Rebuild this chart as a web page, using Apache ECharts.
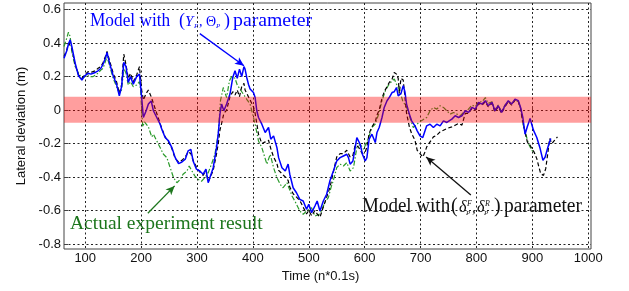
<!DOCTYPE html>
<html>
<head>
<meta charset="utf-8">
<script src="https://cdn.jsdelivr.net/npm/echarts@6/dist/echarts.min.js"></script>
<style>
  html, body { margin: 0; padding: 0; background: #fff; }
  #chart { width: 629px; height: 291px; }
</style>
</head>
<body>
<div id="chart"></div>
<script>
// tick values
const xTicks = [100, 200, 300, 400, 500, 600, 700, 800, 900, 1000];
const yTicks = [-0.8, -0.6, -0.4, -0.2, 0, 0.2, 0.4, 0.6];
// tolerance band (m)
const bandLimits = [0.08, -0.075];

// Model with (Y_P, Θ_P) parameter
const modelYTheta = [[62,0.31],[67,0.355],[70,0.395],[73,0.42],[76,0.38],[82,0.28],[88,0.205],[94,0.18],[99,0.205],[105,0.22],[110,0.215],[114,0.22],[118,0.225],[123,0.235],[128,0.25],[132,0.275],[136,0.31],[139,0.345],[144,0.275],[150,0.205],[156,0.155],[161,0.085],[165,0.14],[169,0.285],[173,0.26],[177,0.165],[181,0.2],[186,0.155],[192,0.2],[197,0.215],[201,0.075],[204,-0.044],[209,-0.004],[213,0.036],[218,0.055],[222,-0.004],[228,-0.044],[234,-0.084],[237,-0.114],[243,-0.164],[249,-0.184],[255,-0.224],[261,-0.284],[267,-0.32],[273,-0.31],[279,-0.293],[284,-0.244],[289,-0.235],[293,-0.304],[299,-0.353],[305,-0.364],[311,-0.383],[316,-0.353],[320,-0.434],[323,-0.425],[329,-0.344],[335,-0.224],[338,-0.144],[341,-0.024],[344,0.036],[348,-0.004],[353,0.036],[359,0.096],[364,0.195],[368,0.235],[372,0.19],[376,0.245],[380,0.2],[384,0.26],[386,0.245],[389,0.195],[392,0.155],[395,0.126],[401,0.105],[404,0.075],[407,-0.004],[410,-0.044],[416,-0.084],[422,-0.134],[428,-0.104],[432,-0.174],[437,-0.154],[443,-0.224],[446,-0.284],[452,-0.344],[458,-0.364],[463,-0.323],[466,-0.383],[472,-0.464],[478,-0.494],[484,-0.533],[490,-0.543],[496,-0.593],[500,-0.563],[505,-0.613],[511,-0.573],[515,-0.543],[520,-0.603],[526,-0.543],[532,-0.503],[538,-0.42],[544,-0.364],[550,-0.304],[556,-0.284],[562,-0.274],[568,-0.264],[571,-0.284],[574,-0.323],[579,-0.304],[583,-0.224],[586,-0.164],[589,-0.154],[592,-0.204],[596,-0.264],[601,-0.304],[604,-0.284],[608,-0.174],[613,-0.144],[619,-0.194],[622,-0.134],[626,-0.104],[631,-0.044],[635,0.016],[640,0.056],[644,0.075],[649,0.105],[653,0.11],[657,0.135],[660,0.085],[665,0.1],[669,0.146],[672,0.11],[675,0.036],[680,-0.024],[684,-0.064],[690,-0.094],[694,-0.124],[699,-0.154],[704,-0.164],[708,-0.124],[711,-0.094],[717,-0.084],[723,-0.104],[729,-0.084],[735,-0.094],[741,-0.064],[747,-0.074],[756,-0.054],[762,-0.034],[768,-0.044],[774,-0.034],[780,-0.004],[786,-0.014],[792,0.016],[798,0.006],[804,0.046],[810,0.036],[816,0.056],[821,0.026],[828,0.046],[833,-0.004],[839,0.026],[845,-0.014],[851,0.026],[857,0.056],[863,0.036],[869,0.066],[875,0.056],[879,0.016],[883,-0.044],[887,-0.144],[891,-0.1],[896,-0.05],[902,-0.12],[908,-0.164],[914,-0.23],[919,-0.3],[923,-0.28],[928,-0.22],[933,-0.17]];

// Model with (δ_P^F, δ_P^R) parameter
const modelDelta = [[62,0.32],[67,0.36],[70,0.40],[73,0.41],[76,0.37],[82,0.27],[88,0.21],[94,0.19],[99,0.21],[105,0.23],[110,0.225],[114,0.23],[118,0.235],[123,0.25],[128,0.26],[132,0.285],[136,0.32],[139,0.35],[144,0.29],[150,0.22],[156,0.17],[161,0.10],[165,0.15],[169,0.335],[173,0.27],[177,0.19],[181,0.22],[186,0.17],[192,0.21],[197,0.26],[201,0.12],[204,0.06],[209,0.10],[213,0.12],[218,0.08],[222,0.04],[228,-0.02],[234,-0.08],[237,-0.11],[243,-0.16],[249,-0.19],[255,-0.23],[261,-0.29],[267,-0.31],[273,-0.30],[279,-0.28],[284,-0.25],[289,-0.26],[293,-0.30],[299,-0.34],[305,-0.37],[311,-0.39],[316,-0.36],[320,-0.43],[323,-0.42],[329,-0.36],[335,-0.26],[338,-0.20],[341,-0.12],[344,-0.08],[348,-0.02],[353,0.0],[359,0.08],[364,0.11],[368,0.09],[372,0.12],[376,0.08],[380,0.14],[384,0.16],[386,0.12],[389,0.10],[392,0.08],[395,0.06],[401,0.02],[404,-0.02],[407,-0.08],[410,-0.144],[416,-0.20],[422,-0.19],[428,-0.18],[432,-0.23],[437,-0.28],[443,-0.32],[446,-0.36],[452,-0.38],[458,-0.40],[463,-0.42],[466,-0.46],[472,-0.50],[478,-0.52],[484,-0.54],[490,-0.58],[496,-0.62],[500,-0.60],[505,-0.63],[511,-0.60],[515,-0.62],[520,-0.64],[526,-0.58],[532,-0.52],[538,-0.46],[544,-0.37],[550,-0.28],[556,-0.26],[562,-0.26],[568,-0.24],[571,-0.25],[574,-0.28],[579,-0.27],[583,-0.21],[586,-0.20],[589,-0.22],[592,-0.24],[596,-0.26],[601,-0.25],[604,-0.22],[608,-0.14],[613,-0.10],[619,-0.07],[622,-0.03],[626,0.0],[631,0.07],[635,0.11],[640,0.14],[644,0.165],[649,0.185],[653,0.225],[657,0.215],[660,0.19],[662,0.10],[665,0.19],[669,0.18],[672,0.08],[675,-0.02],[680,-0.10],[684,-0.14],[690,-0.18],[694,-0.24],[699,-0.26],[704,-0.28],[708,-0.25],[711,-0.22],[717,-0.19],[723,-0.16],[729,-0.15],[735,-0.13],[741,-0.12],[747,-0.11],[756,-0.10],[762,-0.09],[768,-0.08],[774,-0.09],[780,-0.02],[786,-0.02],[792,0.01],[798,0.0],[804,0.04],[810,0.03],[816,0.05],[821,0.02],[828,0.04],[833,-0.01],[839,0.02],[845,-0.02],[851,0.02],[857,0.05],[863,0.03],[869,0.06],[875,0.05],[879,0.01],[883,-0.07],[887,-0.13],[891,-0.19],[896,-0.21],[899,-0.23],[903,-0.25],[908,-0.29],[911,-0.33],[915,-0.38],[920,-0.39],[924,-0.35],[928,-0.25],[931,-0.17],[935,-0.20],[940,-0.18],[945,-0.16]];

// Actual experiment result
const actualResult = [[62,0.38],[66,0.42],[70,0.465],[73,0.44],[76,0.35],[82,0.26],[88,0.22],[94,0.19],[99,0.20],[105,0.21],[110,0.20],[114,0.20],[118,0.21],[123,0.22],[128,0.24],[132,0.25],[136,0.29],[139,0.32],[144,0.26],[150,0.19],[156,0.14],[161,0.10],[165,0.12],[169,0.25],[173,0.22],[177,0.15],[181,0.17],[186,0.14],[192,0.15],[197,0.17],[199,0.12],[201,0.0],[203,-0.10],[206,-0.07],[209,-0.06],[213,-0.10],[216,-0.104],[219,-0.16],[222,-0.144],[228,-0.184],[234,-0.224],[240,-0.264],[246,-0.284],[252,-0.344],[258,-0.404],[264,-0.434],[270,-0.414],[275,-0.383],[282,-0.364],[286,-0.334],[291,-0.364],[296,-0.393],[302,-0.414],[308,-0.425],[314,-0.404],[320,-0.374],[326,-0.323],[332,-0.264],[338,-0.144],[342,0.056],[347,0.135],[353,0.075],[358,0.175],[362,0.2],[368,0.19],[372,0.15],[378,0.12],[384,0.09],[390,0.06],[395,0.036],[404,-0.084],[410,-0.184],[416,-0.224],[425,-0.323],[431,-0.264],[437,-0.344],[443,-0.404],[449,-0.444],[454,-0.464],[461,-0.434],[470,-0.513],[475,-0.543],[484,-0.603],[490,-0.623],[496,-0.603],[505,-0.583],[511,-0.633],[520,-0.62],[529,-0.55],[535,-0.523],[540,-0.46],[544,-0.42],[550,-0.344],[556,-0.323],[562,-0.334],[568,-0.314],[574,-0.364],[580,-0.344],[586,-0.224],[592,-0.204],[598,-0.234],[607,-0.164],[613,-0.104],[619,-0.084],[625,-0.024],[631,0.056],[637,0.115],[642,0.146],[649,0.175],[653,0.186],[657,0.155],[663,0.115],[668,0.056],[675,0.016],[681,-0.044],[687,-0.104],[695,-0.08],[703,-0.06],[711,-0.044],[717,-0.004],[723,0.016],[729,0.006],[735,0.026],[741,0.016],[747,-0.004],[753,-0.024],[759,-0.014],[765,-0.024],[771,-0.034],[777,-0.014],[783,-0.004],[786,0.0],[792,0.03],[798,0.02],[804,0.05],[810,0.05],[816,0.075],[821,0.04],[828,0.05],[833,0.0],[839,0.03],[845,-0.01],[851,0.03],[857,0.05],[863,0.04],[869,0.06],[875,0.05],[879,0.01],[883,-0.08],[888,-0.14],[893,-0.20],[899,-0.24],[905,-0.26]];

// arrow endpoints of the annotations, in data units
const arrowYTheta = [[305, 0.457], [384, 0.265]];
const arrowDelta = [[790, -0.507], [710, -0.28]];
const arrowActual = [[212, -0.616], [260, -0.453]];

(function () {
    const chart = echarts.init(document.getElementById('chart'));

    const serif = 'Liberation Serif, Times New Roman, serif';
    const sans = 'Liberation Sans, Arial, sans-serif';

    function arrow(pts, color) {
        return {
            silent: true,
            symbol: ['none', 'arrow'],
            symbolSize: [6, 9],
            label: { show: false },
            lineStyle: { color: color, width: 1.3, type: 'solid' },
            emphasis: { disabled: true },
            data: [[{ coord: pts[0] }, { coord: pts[1] }]]
        };
    }

    // one piece of annotation text; y is the vertical middle of the text
    function t(x, y, s, size, color, italic, sx) {
        return {
            type: 'text', x: x, y: y, silent: true, scaleX: sx || 1,
            style: {
                text: s, fill: color, fontFamily: serif, fontSize: size,
                fontStyle: italic ? 'italic' : 'normal',
                align: 'left', verticalAlign: 'middle'
            }
        };
    }

    const blue = '#0000ff';
    const dark = '#111111';
    const green = '#1d761d';

    const option = {
        animation: false,
        grid: {
            left: 64, right: 38, top: 3, bottom: 42,
            show: true, borderColor: '#444', borderWidth: 1
        },
        xAxis: {
            type: 'value', min: 62, max: 1005,
            name: 'Time (n*0.1s)', nameLocation: 'middle', nameGap: 18,
            nameTextStyle: { fontFamily: sans, fontSize: 13, color: '#111', padding: [0, 14, 0, 0] },
            axisLine: { show: false },
            axisTick: { show: true, inside: true, length: 4, customValues: xTicks, lineStyle: { color: '#444' } },
            axisLabel: {
                customValues: xTicks, margin: 3, fontFamily: sans, fontSize: 13, color: '#111',
                formatter: v => String(v)
            },
            splitLine: { show: true, lineStyle: { color: '#222', width: 1, type: [2, 2.5] } }
        },
        yAxis: {
            type: 'value', min: -0.83, max: 0.64,
            name: 'Lateral deviation (m)', nameLocation: 'middle', nameGap: 36,
            nameTextStyle: { fontFamily: sans, fontSize: 13, color: '#111' },
            axisLine: { show: false },
            axisTick: { show: true, inside: true, length: 4, customValues: yTicks, lineStyle: { color: '#444' } },
            axisLabel: { customValues: yTicks, margin: 3, fontFamily: sans, fontSize: 13, color: '#111' },
            splitLine: { show: true, lineStyle: { color: '#222', width: 1, type: [2, 2.5] } }
        },
        series: [
            {
                name: 'Actual experiment result', type: 'line', z: 2,
                data: actualResult, showSymbol: false, silent: true,
                lineStyle: { color: '#2a9a2a', width: 1.2, type: [5, 2, 1.5, 2] },
                markLine: arrow(arrowActual, '#1d761d')
            },
            {
                name: 'Model delta', type: 'line', z: 3,
                data: modelDelta, showSymbol: false, silent: true,
                lineStyle: { color: '#000', width: 1.2, type: [4, 2.5] },
                markLine: arrow(arrowDelta, '#111')
            },
            {
                name: 'Model Y Theta', type: 'line', z: 4,
                data: modelYTheta, showSymbol: false, silent: true,
                lineStyle: { color: blue, width: 1.5 },
                markLine: arrow(arrowYTheta, blue)
            },
            {
                // the band is painted over the curves, as in the original figure
                name: 'band', type: 'custom', z: 10, silent: true,
                data: [bandLimits],
                renderItem: function (params, api) {
                    const cs = params.coordSys;
                    const top = api.coord([0, api.value(0)])[1];
                    const bottom = api.coord([0, api.value(1)])[1];
                    return {
                        type: 'rect',
                        shape: { x: cs.x, y: top, width: cs.width, height: bottom - top },
                        style: { fill: 'rgba(255,0,0,0.38)' }
                    };
                }
            }
        ],
        graphic: [
            // Model with (Y_P, Θ_P) parameter
            t(90, 21.5, 'Model with', 19, blue, false, 0.91),
            t(179, 21, '(', 18, blue),
            t(185, 22, 'Y', 15, blue, true),
            t(194, 26.5, 'P', 7, blue, true),
            t(199, 22, ',', 14, blue),
            t(206, 22, 'Θ', 14, blue),
            t(216, 26.5, 'P', 7, blue, true),
            t(224, 21, ')', 18, blue),
            t(233, 21.5, 'parameter', 19, blue, false, 1.04),
            // Model with (δ_P^F, δ_P^R) parameter
            t(362, 207, 'Model with', 20, dark, false, 0.95),
            t(451, 207, '(', 20, dark),
            t(459, 208, 'δ', 16, dark, true),
            t(467, 203.5, 'F', 8, dark, true),
            t(466, 213.5, 'P', 7, dark, true),
            t(472, 209, ',', 15, dark),
            t(477, 208, 'δ', 16, dark, true),
            t(485, 203.5, 'R', 8, dark, true),
            t(484, 213.5, 'P', 7, dark, true),
            t(494, 207, ')', 20, dark),
            t(504, 207, 'parameter', 20, dark, false, 0.975),
            // Actual experiment result
            t(70, 223.5, 'Actual experiment result', 19.5, green)
        ]
    };

    chart.setOption(option);
})();
</script>
</body>
</html>
